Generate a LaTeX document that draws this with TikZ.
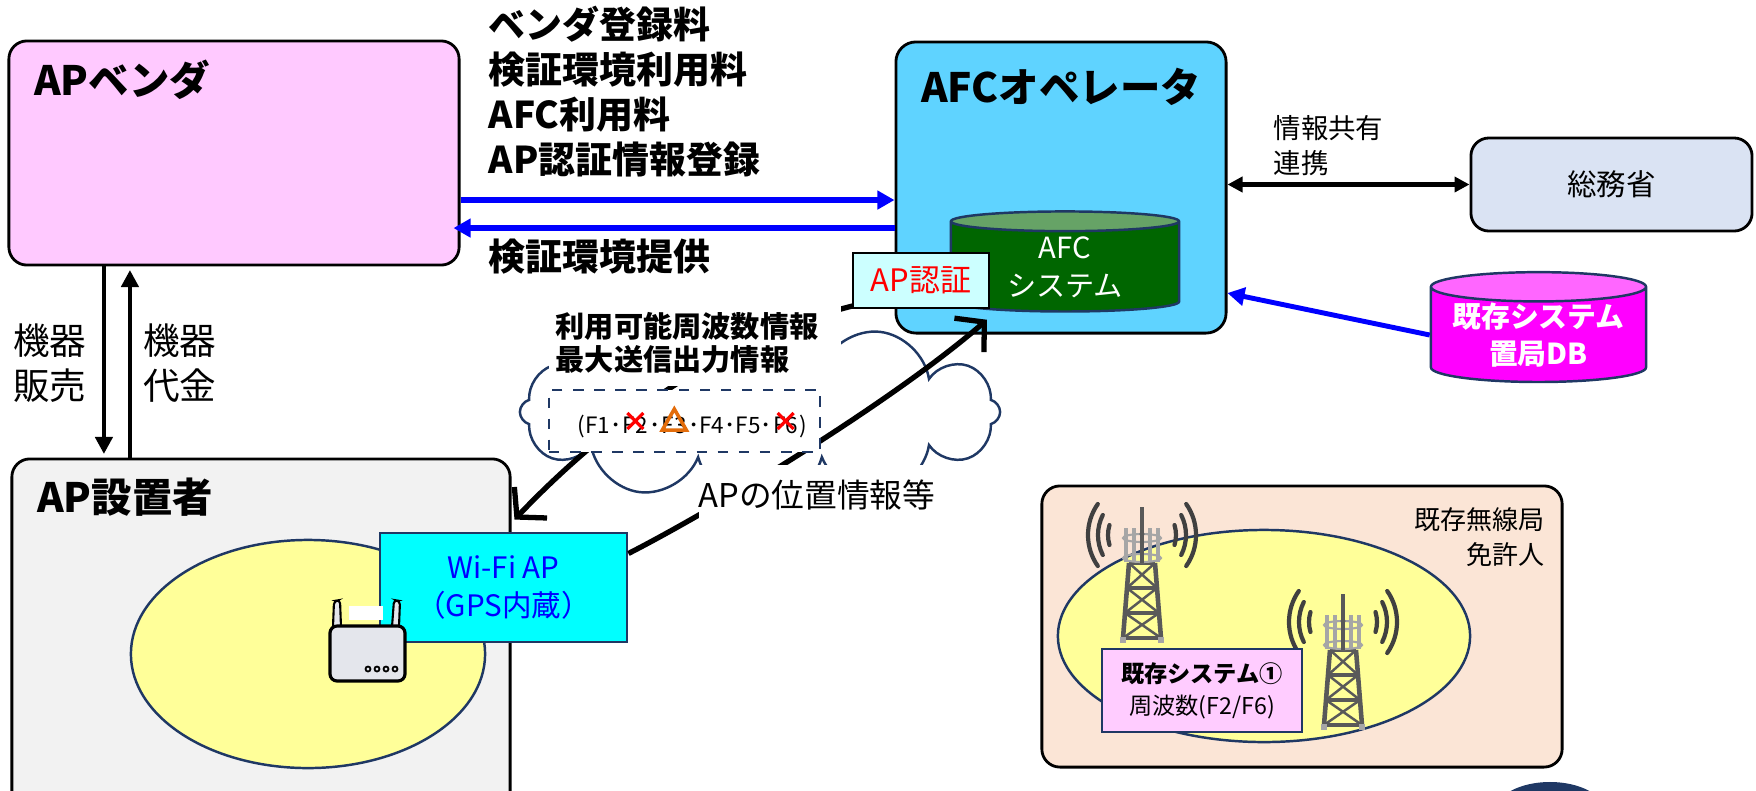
\documentclass[tikz,border=0pt]{standalone}
\usepackage{fontspec}
\setmainfont{Noto Sans CJK JP}
\usepackage{tikz}
\usetikzlibrary{arrows.meta,positioning,shapes.geometric,shapes.symbols,calc}

\definecolor{vendorpink}{HTML}{FFC9FF}
\definecolor{opblue}{HTML}{5FD3FF}
\definecolor{setgray}{HTML}{F2F2F2}
\definecolor{afcgreen}{HTML}{006600}
\definecolor{afctop}{HTML}{66A366}
\definecolor{authcyan}{HTML}{CCFFFF}
\definecolor{wificyan}{HTML}{00FFFF}
\definecolor{miclight}{HTML}{DAE3F3}
\definecolor{dbmagenta}{HTML}{FF00FF}
\definecolor{dbtop}{HTML}{FF66FF}
\definecolor{licpeach}{HTML}{FBE5D6}
\definecolor{areayellow}{HTML}{FFFF99}
\definecolor{syspink}{HTML}{FFCCFF}
\definecolor{navyline}{HTML}{1F3864}
\definecolor{ngorange}{HTML}{E36C0A}
\definecolor{towergray}{HTML}{595959}
\definecolor{arraygray}{HTML}{A6A6A6}
\definecolor{routergray}{HTML}{E4E6EC}

% base station icon, origin at the foot of the tower
\tikzset{
  tower/.pic={
    \draw[towergray, line width=1.3pt] (-19,0) -- (-13,-75) (19,0) -- (13,-75);
    \draw[towergray, line width=0.9pt] (-13,-75) -- (13,-75) (-15,-50) -- (15,-50)
      (-17,-25) -- (17,-25) (-19,0) -- (19,0);
    \draw[towergray, line width=0.7pt] (-13,-75) -- (15,-50) (13,-75) -- (-15,-50)
      (-15,-50) -- (17,-25) (15,-50) -- (-17,-25)
      (-17,-25) -- (19,0) (17,-25) -- (-19,0);
    \draw[arraygray, line width=1.6pt] (-22,2) -- (-16,2) (16,2) -- (22,2);
    \foreach \x in {-16,-8,0,8,16}
      \draw[arraygray, line width=1.2pt] (\x,-76) -- (\x,-110);
    \draw[arraygray, line width=0.6pt] (0,-80) ellipse [x radius=19, y radius=4]
      (0,-100) ellipse [x radius=19, y radius=4];
    \draw[towergray, line width=1pt] (0,-75) -- (0,-131);
    \fill[towergray] (0,-104) circle (2.5);
    \foreach \r/\a in {34/17,44/27,54/35} {
      \draw[waves] ([shift={(180-\a:\r)}]0,-103) arc[start angle=180-\a, end angle=180+\a, radius=\r];
      \draw[waves] ([shift={(-\a:\r)}]0,-103) arc[start angle=-\a, end angle=\a, radius=\r];
    }
  }
}

\begin{document}
\begin{tikzpicture}[x=0.01cm, y=-0.01cm,
    party/.style={draw, line width=0.8pt, rounded corners=0.18cm},
    title/.style={font=\fontsize{11.5}{14}\selectfont\bfseries, inner sep=0pt},
    fees/.style={font=\fontsize{10.5}{12.8}\selectfont\bfseries, align=left, inner sep=0pt},
    note/.style={font=\fontsize{10.4}{12.8}\selectfont, align=left, inner sep=0pt},
    small/.style={font=\fontsize{7.8}{10}\selectfont, align=left, inner sep=0pt},
    area/.style={ellipse, draw=navyline, line width=0.7pt, fill=areayellow},
    db/.style={cylinder, shape border rotate=90, aspect=0.17, draw=navyline, line width=0.7pt,
      cylinder uses custom fill, align=center, inner sep=0pt},
    money/.style={-{Triangle[length=0.17cm, width=0.17cm]}, line width=1.2pt, shorten >=1pt},
    feed/.style={-{Triangle[length=0.17cm, width=0.18cm]}, blue, line width=1.6pt},
    both/.style={{Triangle[length=0.15cm, width=0.15cm]}-{Triangle[length=0.15cm, width=0.15cm]}, line width=1.2pt},
    radio/.style={-{Straight Barb[length=0.2cm, width=0.45cm]}, line width=1.5pt},
    cover/.style={fill=white, inner sep=0pt},
    freq/.style={inner sep=0pt, text height=1.6ex, text depth=0.3ex, font=\fontsize{6.4}{8}\selectfont},
    ngmark/.style={red, line width=0.9pt},
    waves/.style={line width=1.2pt, black!75, line cap=round},
  ]
  \useasboundingbox (0,0) rectangle (1756,790);
  \clip (0,0) rectangle (1756,790);

  % the three parties on the left and top
  \node[party, fill=vendorpink, minimum width=4.5cm, minimum height=2.24cm] (vendor) at (234,153) {};
  \node[title, below right=0.2cm and 0.26cm of vendor.north west] (vendortitle) {APベンダ};
  \node[party, fill=setgray, minimum width=4.98cm, minimum height=3.53cm] (installer) at (261,635.5) {};
  \node[title, below right=0.2cm and 0.26cm of installer.north west] (installertitle) {AP設置者};
  \node[party, fill=opblue, minimum width=3.3cm, minimum height=2.91cm, rounded corners=0.2cm] (operator) at (1061,187.5) {};
  \node[title, below=0.27cm of operator.north] (operatortitle) {AFCオペレータ};

  % AFC system and the AP check
  \node[db, cylinder body fill=afcgreen, cylinder end fill=afctop, minimum width=2.28cm, minimum height=1.0cm,
    text=white, font=\fontsize{8.3}{10.8}\selectfont] (afc) at (1065,267) {AFC\\システム};

  % ministry and the incumbent database
  \node[party, fill=miclight, minimum width=2.81cm, minimum height=0.93cm, font=\fontsize{8.4}{10}\selectfont] (mic) at (1611.5,184.5) {総務省};
  \node[db, cylinder body fill=dbmagenta, cylinder end fill=dbtop, minimum width=2.15cm, minimum height=1.0cm,
    text=white, font=\fontsize{8.2}{10.6}\selectfont\bfseries] (stationdb) at (1538.5,335) {既存システム\\置局DB};

  % incumbent licensee area
  \node[party, fill=licpeach, minimum width=5.2cm, minimum height=2.81cm] (licensee) at (1302,626.5) {};
  \node[small, align=right, anchor=north east, font=\fontsize{7.4}{10}\selectfont] (lictext) at (1545,507) {既存無線局\\免許人};
  \node[area, minimum width=4.12cm, minimum height=2.12cm] (licarea) at (1264,636) {};
  \pic at (1142,638) {tower};
  \pic at (1343,725) {tower};
  \node[draw=navyline, line width=0.8pt, fill=syspink, minimum width=2.0cm, minimum height=0.83cm, align=center,
    font=\fontsize{6.6}{9.1}\selectfont] (sys1) at (1202,690.5) {{\bfseries 既存システム①}\\周波数(F2/F6)};

  % AP installer area with the access point
  \node[area, minimum width=3.54cm, minimum height=2.28cm] (aparea) at (308,654) {};
  \node[draw=navyline, line width=0.8pt, fill=wificyan, minimum width=2.47cm, minimum height=1.09cm, align=center,
    text=blue, font=\fontsize{8.4}{11}\selectfont] (wifi) at (503.5,587.5) {Wi-Fi AP\\（GPS内蔵）};
  \draw[line width=0.6pt, fill=routergray, rounded corners=1pt] (333,627) -- (334,601) -- (340,600) -- (341,627);
  \draw[line width=0.6pt, fill=routergray, rounded corners=1pt] (392,627) -- (394,600) -- (400,601) -- (399,627);
  \fill[white] (349,606) rectangle (383,620);
  \draw[line width=0.9pt, fill=routergray, rounded corners=2pt] (330,626) rectangle (405,681);
  \foreach \x in {368,377,386,395}
    \draw[line width=0.5pt] (\x,669) circle (2.5);

  % network cloud
  \node[cloud, cloud puffs=12, draw=navyline, line width=0.7pt, minimum width=4.8cm, minimum height=1.85cm] (net) at (760,412) {};

  % Arrows
  \draw[money] ([xshift=-1.3cm]vendor.south) -- ([xshift=-1.3cm]vendor.south |- installer.north);
  \draw[money] ([xshift=-1.04cm]vendor.south |- installer.north) -- ([xshift=-1.04cm]vendor.south);
  \draw[feed] ([yshift=-0.47cm]vendor.east) -- ([yshift=-0.47cm]vendor.east -| operator.west);
  \draw[feed, shorten >=-2pt] ([yshift=-0.75cm]vendor.east -| operator.west) -- ([yshift=-0.75cm]vendor.east);
  \draw[both] (operator.east |- mic.west) -- (mic.west);
  \draw[feed, line width=1.4pt] (stationdb.west) -- ([yshift=-1.055cm]operator.east);
  \draw[radio] (880,300) .. controls (720,330) and (590,440) .. ([xshift=0.11cm, yshift=0.12cm]wifi.north);
  \draw[radio] ([yshift=0.34cm]wifi.east) .. controls (723,505) and (897,398) .. ([xshift=-0.78cm, yshift=-0.07cm]afc.south);
  \node[draw, line width=0.8pt, fill=authcyan, minimum width=1.36cm, minimum height=0.55cm,
    text=red, font=\fontsize{8.8}{10}\selectfont] (auth) at (921,280.5) {AP認証};

  % labels
  \node[fees, anchor=west] (fees) at (488,92) {ベンダ登録料\\検証環境利用料\\AFC利用料\\AP認証情報登録};
  \node[fees, anchor=west] (envprov) at (488,257) {検証環境提供};
  \node[note] (sales) at (50,363) {機器\\販売};
  \node[note] (payment) at (180,363) {機器\\代金};
  \node[small, anchor=west] (share) at (1273,145.5) {情報共有\\連携};
  \node[cover, anchor=north west, text width=2.78cm, inner xsep=0.07cm, minimum height=0.85cm, align=left,
    font=\fontsize{8.3}{9.4}\selectfont\bfseries] (avail) at (548,300) {利用可能周波数情報\\最大送信出力情報};
  \node[cover, minimum width=2.35cm, minimum height=0.6cm, font=\fontsize{9.3}{11}\selectfont] (posinfo) at (817,495) {APの位置情報等};

  % channel list with the blocked ones marked
  \node[draw=navyline, dashed, line width=0.8pt, fill=white, minimum width=2.71cm, minimum height=0.62cm] (freqbox) at (684.5,421) {};
  \node[freq, anchor=west] (fa) at (577,421) {(F1･};
  \node[freq, right=0pt of fa] (f2) {F2};
  \node[freq, right=0pt of f2] (fb) {･};
  \node[freq, right=0pt of fb] (f3) {F3};
  \node[freq, right=0pt of f3] (fc) {･F4･F5･};
  \node[freq, right=0pt of fc] (f6) {F6};
  \node[freq, right=0pt of f6] (fd) {)};
  \foreach \f in {f2,f6}
    \draw[ngmark] ($(\f.center)+(-8,-8)$) -- ($(\f.center)+(8,8)$)
      ($(\f.center)+(-8,8)$) -- ($(\f.center)+(8,-8)$);
  \draw[ngorange, line width=1pt, line join=miter] ($(f3.center)+(0,-12)$) -- ($(f3.center)+(12,9)$)
    -- ($(f3.center)+(-12,9)$) -- cycle;

  \node[ellipse, fill=navyline, minimum width=1.1cm, minimum height=0.6cm] (badge) at (1550,812) {};
\end{tikzpicture}
\end{document}
